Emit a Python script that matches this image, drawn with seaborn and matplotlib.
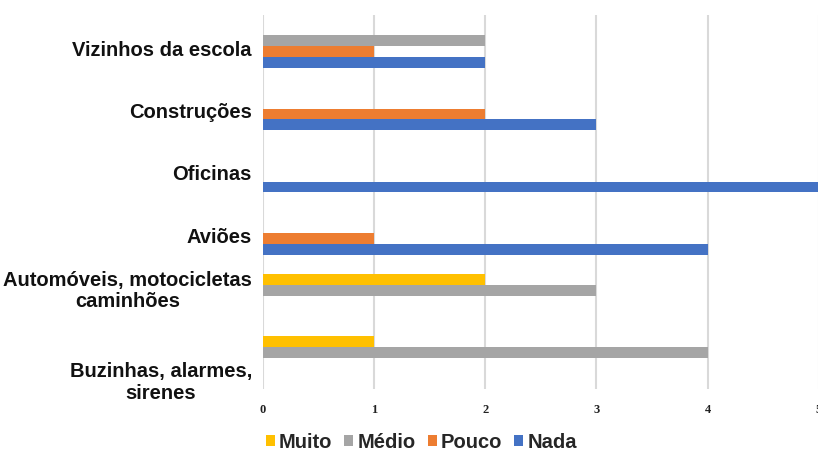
import matplotlib
matplotlib.use("Agg")
import matplotlib.pyplot as plt
import matplotlib.transforms as mtransforms
import seaborn as sns
import pandas as pd

categories = ["Vizinhos da escola", "Construções", "Oficinas", "Aviões",
              "Automóveis, motocicletas\ncaminhões", "Buzinhas, alarmes,\nsirenes"]
series = ["Muito", "Médio", "Pouco", "Nada"]
muito = [0, 0, 0, 0, 2, 1]
medio = [2, 0, 0, 0, 3, 4]
pouco = [1, 2, 0, 1, 0, 0]
nada = [2, 3, 5, 4, 0, 0]
x_ticks = [0, 1, 2, 3, 4, 5]
colors = ["#FFC000", "#A5A5A5", "#ED7D31", "#4472C4"]

rows = []
for s, vals in zip(series, [muito, medio, pouco, nada]):
    for c, v in zip(categories, vals):
        rows.append({"Categoria": c, "Série": s, "Valor": v})
df = pd.DataFrame(rows)

sns.set_theme(style="white")
plt.rcParams["font.family"] = ["Liberation Sans", "DejaVu Sans"]

fig = plt.figure(figsize=(8.18, 4.52), dpi=100)
ax = fig.add_axes([263 / 818, 1 - 390 / 452, 1 - 263 / 818 + 0.001, (390 - 16) / 452])

sns.barplot(data=df, y="Categoria", x="Valor", hue="Série", order=categories,
            hue_order=series, palette=colors, orient="h", width=0.69,
            linewidth=0, saturation=1, ax=ax, zorder=3)

ax.set_xlim(0, 5)
ax.set_ylim(5.5, -0.5)
ax.set_xticks(x_ticks)
ax.set_xticklabels([str(t) for t in x_ticks], family=["Liberation Serif", "DejaVu Serif"],
                   fontsize=9, fontweight="bold", color="#222222")
ax.xaxis.grid(True, color="#D9D9D9", linewidth=1.5, zorder=0)
ax.yaxis.grid(False)
for sp in ax.spines.values():
    sp.set_visible(False)
ax.tick_params(axis="both", length=0)
ax.tick_params(axis="x", pad=10)
ax.tick_params(axis="y", pad=8)
ax.set_xlabel("")
ax.set_ylabel("")

offsets = [1, 1, 1, 1, -8.5, 20.5]
for lab, off in zip(ax.get_yticklabels(), offsets):
    lab.set_fontsize(14.5)
    lab.set_fontweight("bold")
    lab.set_color("#111111")
    lab.set_multialignment("center")
    lab.set_linespacing(1.15)
    lab.set_transform(lab.get_transform() + mtransforms.ScaledTranslation(0, -off / 100, fig.dpi_scale_trans))

leg = ax.get_legend()
handles = leg.legend_handles
leg.remove()
fig.legend(handles, series, loc="center", bbox_to_anchor=(0.515, 0.02), ncol=4,
           frameon=False, handlelength=0.45, handleheight=0.45, handletextpad=0.2,
           columnspacing=0.6, prop={"weight": "bold", "size": 14.5})

fig.savefig("out.png", dpi=100)
